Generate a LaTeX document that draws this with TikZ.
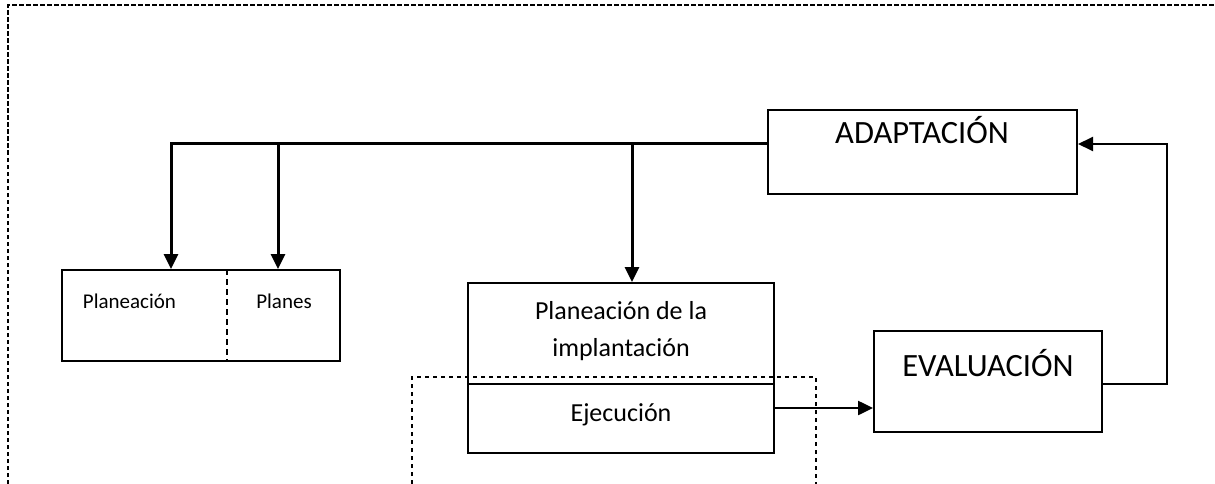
\documentclass[tikz,border=0pt]{standalone}
\usepackage{fontspec}
\setmainfont{Carlito}
\usetikzlibrary{arrows.meta,calc}
\tikzset{
  box/.style={draw, line width=2pt, inner sep=0pt, minimum width=#1},
  conn/.style={line width=3pt, -{Triangle[length=15pt,width=14pt]}},
  frame/.style={line width=1.8pt, dash pattern=on 4.5pt off 2.5pt},
  dotbox/.style={line width=2pt, dash pattern=on 4pt off 4pt},
  big/.style={font=\fontsize{32.5}{37}\selectfont, inner sep=0pt},
  mid/.style={font=\fontsize{26}{37}\selectfont, inner sep=0pt, align=center},
  small/.style={font=\fontsize{21}{25}\selectfont, inner sep=0pt}
}
\begin{document}
\begin{tikzpicture}[x=1pt,y=-1pt]
\useasboundingbox (0,0) rectangle (1215,484);
% outer dashed frame
\draw[frame] (8,484) -- (8,5) -- (1215,5);
% boxes
\node[box=309pt, minimum height=84pt] (adapt) at (922.5,152) {};
\node[big, anchor=base] (adaptT) at (922,143.3) {ADAPTACIÓN};
\node[box=278pt, minimum height=91pt] (plan) at (201,315.5) {};
\draw[line width=2pt, dash pattern=on 6pt off 4pt] (plan.north west) ++(166,0) -- ++(0,91);
\node[small, anchor=base] (planT) at (129.5,308) {Planeación};
\node[small, anchor=base] (planesT) at (284,308) {Planes};
\node[box=306pt, minimum height=101pt] (implA) at (621,333.5) {};
\node[mid] (implT) at (621,331) {Planeación de la\\implantación};
\node[box=306pt, minimum height=69pt] (implB) at (621,418.5) {};
\node[mid, anchor=base] (ejT) at (621,421.7) {Ejecución};
\node[box=228pt, minimum height=101pt] (eva) at (988,381.5) {};
\node[big, anchor=base] (evaT) at (988,376.7) {EVALUACIÓN};
% dotted box
\draw[dotbox] (412,484) -- (412,377) -- (816,377) -- (816,484);
% connectors
\coordinate (bus) at ($(adapt.west)+(0,-8)$);
\draw[conn] (bus) -| ($(plan.north west)+(110,0)$);
\draw[conn] (bus) -| ($(plan.north west)+(217,0)$);
\draw[conn] (bus) -| ($(implA.north)+(11,0)$);
\coordinate (ej) at ($(implB.east)+(0,-10.5)$);
\draw[conn, line width=2.5pt] (ej) -- (ej -| eva.west);
\draw[conn, line width=2pt] ($(eva.east)+(0,2.5)$) -- ++(64,0) |- ($(adapt.east)+(0,-8)$);
\end{tikzpicture}
\end{document}
